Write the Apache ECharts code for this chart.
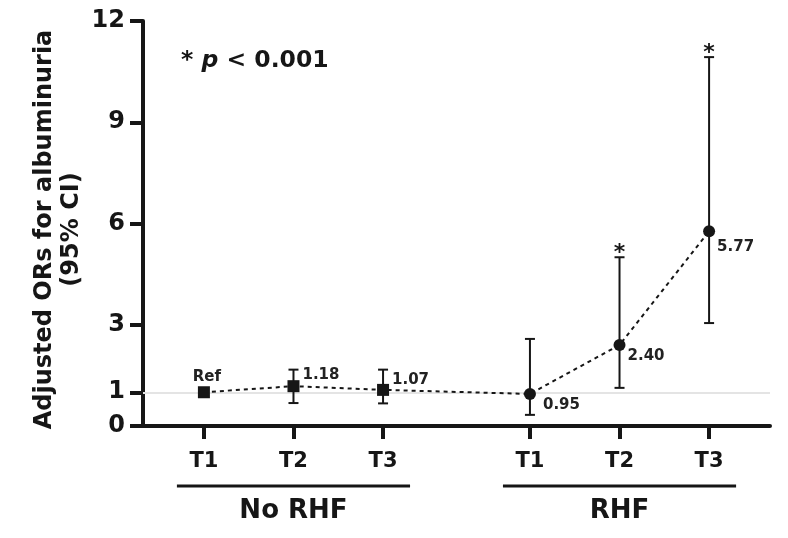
<!DOCTYPE html>
<html><head><meta charset="utf-8">
<script src="https://cdn.jsdelivr.net/npm/echarts@6/dist/echarts.min.js"></script>
<style>html,body{margin:0;padding:0;background:#fff}#c{width:788px;height:538px}</style>
</head><body><div id="c"></div>
<script>
// ---- data ----
const groupNames = ['No RHF', 'RHF'];
const tertiles = ['T1', 'T2', 'T3', 'T1', 'T2', 'T3'];
const groupOf = [0, 0, 0, 1, 1, 1];
const xPos = [1, 2, 3, 4.64, 5.64, 6.64];
const orValues = [1.00, 1.18, 1.07, 0.95, 2.40, 5.77];
const ciLower = [null, 0.68, 0.67, 0.33, 1.13, 3.05];
const ciUpper = [null, 1.67, 1.67, 2.58, 5.00, 10.93];
const pointLabels = ['Ref', '1.18', '1.07', '0.95', '2.40', '5.77'];
const significant = [false, false, false, false, true, true];
const yTicks = [0, 1, 3, 6, 9, 12];
const refValue = 1;

// ---- styles ----
const FONT = 'DejaVu Sans, Liberation Sans, Arial, sans-serif';
const INK = '#161616';
const labelStyle = [
  { dx: 3, dy: -15, align: 'center' },
  { dx: 9, dy: -11, align: 'left' },
  { dx: 9, dy: -10, align: 'left' },
  { dx: 13, dy: 11, align: 'left' },
  { dx: 8, dy: 11, align: 'left' },
  { dx: 8, dy: 16, align: 'left' }
];

const chart = echarts.init(document.getElementById('c'), null, { renderer: 'canvas' });

const customData = xPos.map((x, i) => [x, orValues[i], ciLower[i] == null ? 0 : ciLower[i], ciUpper[i] == null ? 0 : ciUpper[i]]);

const option = {
  backgroundColor: '#fff',
  animation: false,
  title: {
    left: 176, top: 44,
    text: '{a|* }{p|p}{a| < 0.001}',
    textStyle: {
      rich: {
        a: { fontFamily: FONT, fontWeight: 'bold', fontSize: 23.5, color: INK },
        p: { fontFamily: FONT, fontWeight: 'bold', fontStyle: 'italic', fontSize: 23.5, color: INK }
      }
    }
  },
  grid: { left: 143, right: 18, top: 21, bottom: 112, containLabel: false },
  xAxis: {
    type: 'value', min: 0.32, max: 7.32,
    splitLine: { show: false },
    axisLine: { lineStyle: { color: INK, width: 4 } },
    axisTick: { customValues: xPos, length: 13, lineStyle: { color: INK, width: 4 } },
    axisLabel: {
      customValues: xPos,
      formatter: v => { const k = xPos.findIndex(p => Math.abs(p - v) < 1e-6); return k >= 0 ? tertiles[k] : ''; },
      fontFamily: FONT, fontWeight: 'bold', fontSize: 21, color: INK, margin: 25
    }
  },
  yAxis: {
    type: 'value', min: 0, max: 12,
    name: 'Adjusted ORs for albuminuria\n(95% CI)',
    nameLocation: 'middle', nameRotate: 90, nameGap: 58, nameMoveOverlap: false,
    nameTextStyle: { fontFamily: FONT, fontWeight: 'bold', fontSize: 24, color: INK, lineHeight: 27, padding: [0, 12, 0, 0] },
    splitLine: { show: false },
    axisLine: { show: true, lineStyle: { color: INK, width: 4 } },
    axisTick: { show: true, customValues: yTicks, length: 13, lineStyle: { color: INK, width: 4 } },
    axisLabel: { customValues: yTicks, fontFamily: FONT, fontWeight: 'bold', fontSize: 24, color: INK, margin: 18 }
  },
  series: [
    {
      type: 'line',
      data: xPos.map((x, i) => [x, orValues[i]]),
      symbol: 'none',
      lineStyle: { color: INK, width: 2, type: [4, 4] },
      z: 3,
      markLine: {
        silent: true, symbol: 'none', label: { show: false },
        lineStyle: { color: '#e4e4e4', width: 2, type: 'solid' },
        data: [{ yAxis: refValue }],
        z: 1
      }
    },
    {
      type: 'custom',
      data: customData,
      z: 4,
      renderItem: (params, api) => {
        const i = params.dataIndex;
        const p = api.coord([api.value(0), api.value(1)]);
        const children = [];
        if (ciLower[i] != null) {
          const lo = api.coord([api.value(0), api.value(2)]);
          const hi = api.coord([api.value(0), api.value(3)]);
          const s = { stroke: INK, lineWidth: 2 };
          children.push({ type: 'line', shape: { x1: p[0], y1: lo[1], x2: p[0], y2: hi[1] }, style: s });
          children.push({ type: 'line', shape: { x1: p[0] - 5, y1: lo[1], x2: p[0] + 5, y2: lo[1] }, style: s });
          children.push({ type: 'line', shape: { x1: p[0] - 5, y1: hi[1], x2: p[0] + 5, y2: hi[1] }, style: s });
          if (significant[i]) {
            children.push({ type: 'text', x: p[0], y: hi[1] - 4, style: { text: '*', fontFamily: FONT, fontWeight: 'bold', fontSize: 22, fill: INK, align: 'center', verticalAlign: 'middle' } });
          }
        }
        const ls = labelStyle[i];
        children.push({ type: 'text', x: p[0] + ls.dx, y: p[1] + ls.dy, style: { text: pointLabels[i], fontFamily: FONT, fontWeight: 'bold', fontSize: 15, fill: '#222', align: ls.align, verticalAlign: 'middle' } });
        return { type: 'group', children };
      }
    },
    {
      type: 'scatter',
      z: 5,
      symbolSize: 12,
      data: xPos.map((x, i) => ({ value: [x, orValues[i]], symbol: groupOf[i] === 0 ? 'rect' : 'circle' })),
      itemStyle: { color: INK, opacity: 1 }
    }
  ]
};
chart.setOption(option);

// group brackets under the tertile labels
const graphics = [];
groupNames.forEach((g, gi) => {
  const xs = xPos.filter((_, i) => groupOf[i] === gi);
  const a = chart.convertToPixel({ xAxisIndex: 0 }, Math.min(...xs));
  const b = chart.convertToPixel({ xAxisIndex: 0 }, Math.max(...xs));
  const mid = (a + b) / 2;
  const half = (b - a) / 2 + 27;
  const base = chart.convertToPixel({ yAxisIndex: 0 }, 0);
  graphics.push({ type: 'line', shape: { x1: mid - half, y1: base + 60, x2: mid + half, y2: base + 60 }, style: { stroke: INK, lineWidth: 3 } });
  graphics.push({ type: 'text', x: mid, y: base + 85, style: { text: g, fontFamily: FONT, fontWeight: 'bold', fontSize: 26, fill: INK, align: 'center', verticalAlign: 'middle' } });
});
chart.setOption({ graphic: graphics });
</script>
</body></html>
